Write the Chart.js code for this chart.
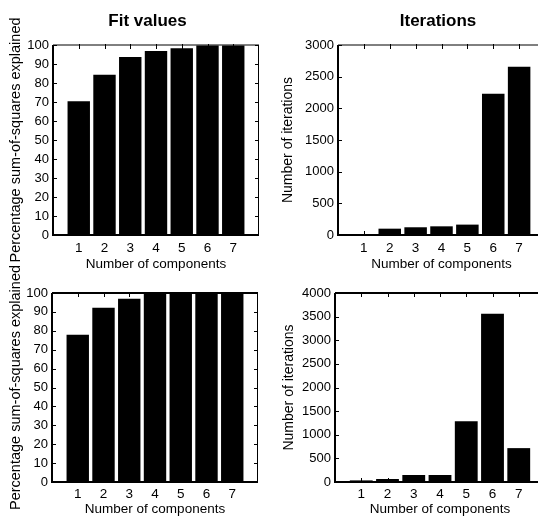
<!DOCTYPE html>
<html>
<head>
    <title>Fit values / Iterations</title>
    <script src="https://cdn.jsdelivr.net/npm/chart.js"></script>
    <style>
        body { margin: 0; background: #fff; overflow: hidden; width: 538px; height: 517px; position: relative; }
        canvas { position: absolute; }
    </style>
</head>
<body>
    <canvas id="fitTop" width="295" height="275" style="left:0;top:0"></canvas>
    <canvas id="iterTop" width="336" height="275" style="left:270px;top:0"></canvas>
    <canvas id="fitBottom" width="295" height="270" style="left:0;top:250px"></canvas>
    <canvas id="iterBottom" width="336" height="270" style="left:270px;top:250px"></canvas>

    <script>
        // values
        const components = [1, 2, 3, 4, 5, 6, 7];
        const fitTopValues = [70.4, 84.4, 93.7, 96.8, 98.3, 99.7, 99.8];
        const iterTopValues = [15, 100, 122, 137, 164, 2231, 2655];
        const fitBottomValues = [77.9, 92.2, 96.9, 100, 100, 100, 100];
        const iterBottomValues = [34, 63, 148, 148, 1286, 3563, 717];

        const sans = "'Liberation Sans', Arial, sans-serif";

        // matlab-like box with inward ticks
        const boxPlugin = {
            id: 'box',
            afterDatasetsDraw(chart, args, opts) {
                const {ctx, chartArea: a, scales: {x, y}} = chart;
                ctx.save();
                ctx.strokeStyle = '#000';
                ctx.lineWidth = 1;
                ctx.beginPath();
                y.ticks.forEach(t => {
                    const py = Math.round(y.getPixelForValue(t.value)) + 0.5;
                    ctx.moveTo(a.left, py); ctx.lineTo(a.left + 4, py);
                    ctx.moveTo(a.right, py); ctx.lineTo(a.right - 4, py);
                });
                components.forEach(c => {
                    const px = Math.round(x.getPixelForValue(c)) + 0.5;
                    ctx.moveTo(px, a.top - 1); ctx.lineTo(px, a.top + 4);
                    ctx.moveTo(px, a.bottom); ctx.lineTo(px, a.bottom - 4);
                });
                ctx.stroke();

                ctx.beginPath();
                ctx.moveTo(a.right - 0.5, a.top); ctx.lineTo(a.right - 0.5, a.bottom);
                ctx.stroke();

                ctx.lineWidth = opts.topWidth || 1;
                ctx.beginPath();
                ctx.moveTo(a.left, a.top); ctx.lineTo(a.right, a.top);
                ctx.stroke();

                ctx.lineWidth = 2;
                ctx.beginPath();
                ctx.moveTo(a.left, a.top); ctx.lineTo(a.left, a.bottom);
                ctx.lineTo(a.right, a.bottom);
                ctx.stroke();
                ctx.restore();
            }
        };

        function makePanel(id, p) {
            new Chart(document.getElementById(id), {
                type: 'bar',
                data: {
                    datasets: [{
                        data: components.map((c, i) => ({x: c, y: p.values[i]})),
                        backgroundColor: '#000',
                        borderWidth: 0,
                        barPercentage: 0.87,
                        categoryPercentage: 1
                    }]
                },
                options: {
                    responsive: false,
                    animation: false,
                    layout: { padding: { top: p.padTop, left: 0, right: 0, bottom: 0 } },
                    plugins: {
                        legend: { display: false },
                        tooltip: { enabled: false },
                        title: {
                            display: !!p.title,
                            text: p.title,
                            color: '#000',
                            font: { family: sans, size: 17, weight: 'bold', lineHeight: 1.2 },
                            padding: { top: 11, bottom: 13.6 }
                        },
                        box: { topWidth: p.topWidth }
                    },
                    scales: {
                        x: {
                            type: 'linear',
                            offset: false,
                            min: 0,
                            max: 8,
                            grid: { display: false, drawTicks: false },
                            border: { display: false },
                            afterFit: s => { s.height = p.xHeight; },
                            ticks: {
                                stepSize: 1,
                                autoSkip: false,
                                maxRotation: 0,
                                padding: p.xTickPad,
                                color: '#000',
                                font: { family: sans, size: 13.5 },
                                callback: v => (v >= 1 && v <= 7) ? String(v) : ''
                            },
                            title: {
                                display: true,
                                text: 'Number of components',
                                color: '#000',
                                font: { family: sans, size: 13.5 },
                                padding: { top: 0, bottom: 3 }
                            }
                        },
                        y: {
                            min: 0,
                            max: p.yMax,
                            grid: { display: false, drawTicks: false },
                            border: { display: false },
                            afterFit: s => { s.width = p.yWidth; },
                            ticks: {
                                stepSize: p.yStep,
                                autoSkip: false,
                                padding: 4,
                                color: '#000',
                                font: { family: sans, size: 13 },
                                callback: v => String(v)
                            },
                            title: {
                                display: true,
                                text: p.yTitle,
                                color: '#000',
                                font: { family: sans, size: p.yTitleSize },
                                padding: { top: p.yTitlePad, bottom: 0 }
                            }
                        },
                        // empty right strip: the axes box runs past the panel edge
                        spare: {
                            type: 'linear',
                            position: 'right',
                            display: true,
                            grid: { display: false, drawTicks: false },
                            border: { display: false },
                            ticks: { display: false },
                            afterFit: s => { s.width = p.spareWidth; }
                        }
                    }
                },
                plugins: [boxPlugin]
            });
        }

        makePanel('fitTop', {
            title: 'Fit values', values: fitTopValues, yMax: 100, yStep: 10,
            yTitle: 'Percentage sum-of-squares explained', yTitlePad: 7, yTitleSize: 14.5,
            padTop: 0, spareWidth: 36,
            yWidth: 53, xHeight: 40, xTickPad: 5, topWidth: 1
        });
        makePanel('iterTop', {
            title: 'Iterations', values: iterTopValues, yMax: 3000, yStep: 500,
            yTitle: 'Number of iterations', yTitlePad: 9.6, yTitleSize: 14,
            padTop: 0, spareWidth: 61,
            yWidth: 68, xHeight: 40, xTickPad: 5, topWidth: 1
        });
        makePanel('fitBottom', {
            title: '', values: fitBottomValues, yMax: 100, yStep: 10,
            yTitle: 'Percentage sum-of-squares explained', yTitlePad: 7.6, yTitleSize: 14.5,
            padTop: 43, spareWidth: 37,
            yWidth: 52, xHeight: 38, xTickPad: 4, topWidth: 2
        });
        makePanel('iterBottom', {
            title: '', values: iterBottomValues, yMax: 4000, yStep: 500,
            yTitle: 'Number of iterations', yTitlePad: 10.6, yTitleSize: 14,
            padTop: 43, spareWidth: 61,
            yWidth: 65, xHeight: 38, xTickPad: 4, topWidth: 2
        });
    </script>
</body>
</html>
